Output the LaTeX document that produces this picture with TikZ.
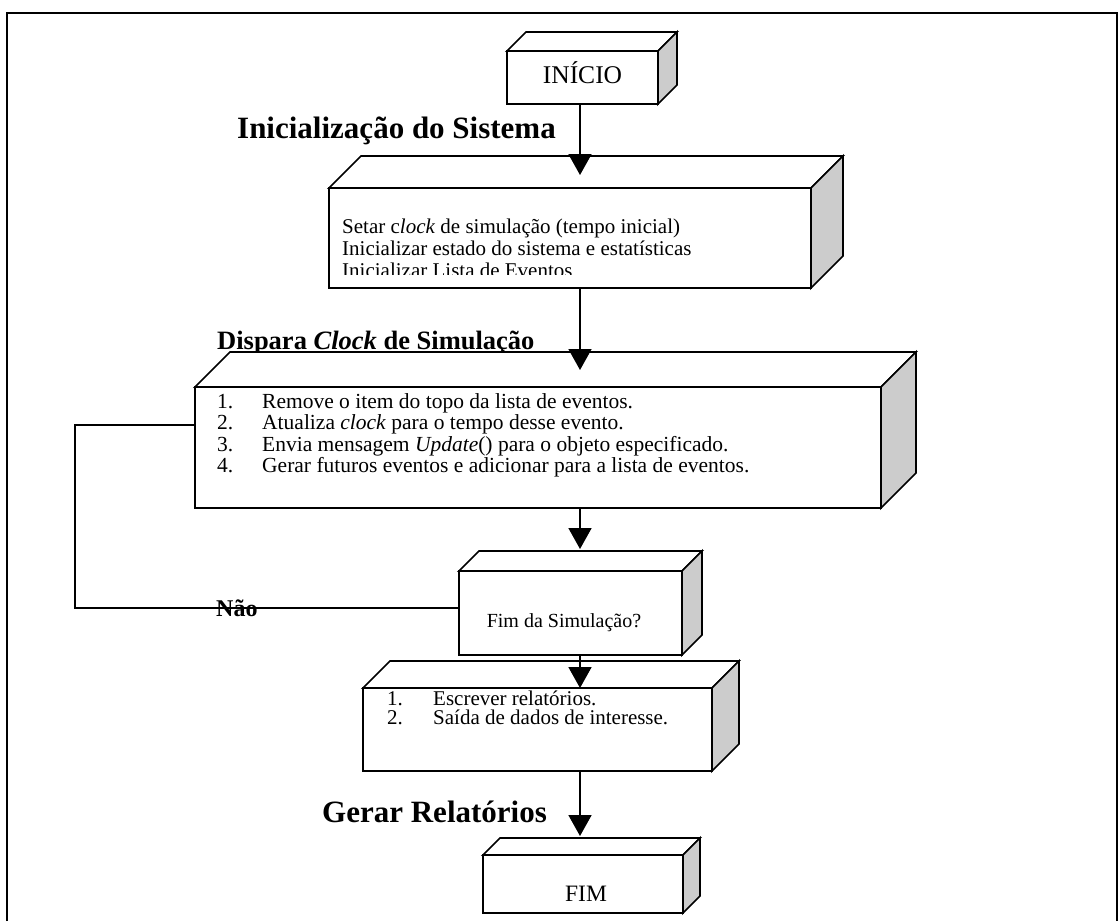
\documentclass[tikz,border=0pt]{standalone}
\usepackage{fontspec}
\setmainfont{Liberation Serif}
\usetikzlibrary{arrows.meta,calc}
\definecolor{sidegray}{gray}{0.8}
% front face of a block is a node; top and right faces are added around it
\newcommand\drawslab[2]{%
  \draw[face] (#1.north west) -- ++(#2,-#2) -- ($(#1.north east)+(#2,-#2)$) -- (#1.north east) -- cycle;
  \draw[side] (#1.north east) -- ++(#2,-#2) -- ($(#1.south east)+(#2,-#2)$) -- (#1.south east) -- cycle;
}
\begin{document}
\begin{tikzpicture}[x=1pt,y=-1pt,
  edge/.style={line width=1.7pt},
  flow/.style={edge,-{Triangle[width=23pt,length=21pt]}},
  face/.style={draw,line width=1.7pt,fill=white,line join=miter},
  side/.style={draw,line width=1.7pt,fill=sidegray,line join=miter},
  front/.style={face,inner sep=0pt,outer sep=0pt},
  item/.style={inner sep=0pt,anchor=base west,font=\fontsize{#1}{#1}\selectfont},
  head/.style={inner sep=0pt,anchor=base west,font=\bfseries\fontsize{#1}{#1}\selectfont},
]
\useasboundingbox (0,0) rectangle (1118,921);

% outer frame
\draw[line width=2pt] (7,921) -- (7,13) -- (1117,13) -- (1117,921);

% section headings
\node[head=31] (hinit) at (237,138) {Inicialização do Sistema};
\node[head=26.5] (hclock) at (217,349) {Dispara \textit{Clock} de Simulação};
\node[head=24] (hnao) at (216,616) {Não};
\node[head=31] (hrep) at (322,822) {Gerar Relatórios};

% start block
\node[front,minimum width=151pt,minimum height=53pt] (inicio) at (582.5,77.5) {};
\drawslab{inicio}{19}
\node[inner sep=0pt,anchor=base,font=\fontsize{25.5}{27}\selectfont] (itxt) at (582.5,83) {INÍCIO};

% initialisation block
\node[front,minimum width=482pt,minimum height=100pt] (sys) at (570,238) {};
\drawslab{sys}{32}
\begin{scope}
  \clip (330,189) rectangle (810,274);
  \node[item=21] (s1) at (342,233) {Setar c\textit{lock} de simulação (tempo inicial)};
  \node[item=21] (s2) at (342,255) {Inicializar estado do sistema e estatísticas};
  \node[item=21] (s3) at (342,277) {Inicializar Lista de Eventos};
\end{scope}

% event processing block
\node[front,minimum width=686pt,minimum height=121pt] (proc) at (538,447.5) {};
\drawslab{proc}{35}
\node[item=21.5] (p1n) at (217,408) {1.};
\node[item=21.5] (p1) at (262,408) {Remove o item do topo da lista de eventos.};
\node[item=21.5] (p2n) at (217,429.5) {2.};
\node[item=21.5] (p2) at (262,429.5) {Atualiza \textit{clock} para o tempo desse evento.};
\node[item=21.5] (p3n) at (217,451) {3.};
\node[item=21.5] (p3) at (262,451) {Envia mensagem \textit{Update}() para o objeto especificado.};
\node[item=21.5] (p4n) at (217,472.5) {4.};
\node[item=21.5] (p4) at (262,472.5) {Gerar futuros eventos e adicionar para a lista de eventos.};

% decision block
\node[front,minimum width=223pt,minimum height=84pt] (dec) at (570.5,613) {};
\drawslab{dec}{20}
\node[inner sep=0pt,anchor=base,font=\fontsize{20}{21}\selectfont] (dtxt) at (564,627) {Fim da Simulação?};

% report block
\node[front,minimum width=349pt,minimum height=83pt] (rep) at (537.5,729.5) {};
\drawslab{rep}{27}
\node[item=21] (r1n) at (387,705) {1.};
\node[item=21] (r1) at (433,705) {Escrever relatórios.};
\node[item=21] (r2n) at (387,724) {2.};
\node[item=21] (r2) at (433,724) {Saída de dados de interesse.};

% end block
\node[front,minimum width=200pt,minimum height=58pt] (fim) at (583,884) {};
\drawslab{fim}{17}
\node[inner sep=0pt,anchor=base,font=\fontsize{23.5}{25}\selectfont] (ftxt) at (586,901) {FIM};

% arrow tips and loop corners
\coordinate (a1) at (580,175);
\coordinate (a2) at (580,370);
\coordinate (a3) at (580,549);
\coordinate (a4) at (580,688);
\coordinate (a5) at (580,836);
\coordinate (loopb) at (75,608);
\coordinate (loopt) at (75,425);

% connectors
\draw[flow] (inicio.south -| a1) -- (a1);
\draw[flow] (sys.south -| a2) -- (a2);
\draw[flow] (proc.south -| a3) -- (a3);
\draw[flow] (dec.south -| a4) -- (a4);
\draw[flow] (rep.south -| a5) -- (a5);
\draw[edge] (dec.west |- loopb) -- (loopb) -- (loopt) -- (loopt -| proc.west);
\end{tikzpicture}
\end{document}
